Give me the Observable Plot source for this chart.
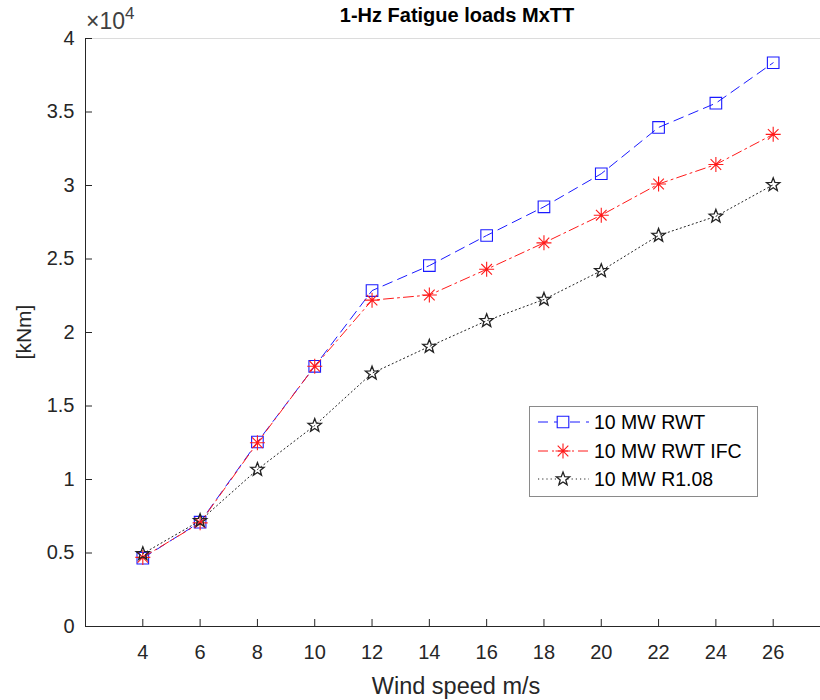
<!DOCTYPE html>
<html>
<head>
<meta charset="utf-8">
<script src="https://cdn.jsdelivr.net/npm/d3@7"></script>
<script src="https://cdn.jsdelivr.net/npm/@observablehq/plot@0.6"></script>
<style>
  html, body { margin: 0; padding: 0; background: #fff; }
  #wrap { position: relative; width: 820px; height: 700px; overflow: hidden; font-family: "Liberation Sans", Arial, sans-serif; }
  #chart { position: absolute; left: 0; top: 0; }
  .title { position: absolute; top: 4px; left: 257px; width: 400px; text-align: center; font-weight: bold; font-size: 20px; color: #000; }
  .exp { position: absolute; top: 5px; left: 86px; font-size: 23px; color: #404040; }
  .exp sup { font-size: 17px; position: relative; top: -1px; }
  .ylab { position: absolute; left: 24px; top: 332px; transform: translate(-50%, -50%) rotate(-90deg); font-size: 21px; color: #262626; white-space: nowrap; }
  .xlab { position: absolute; left: 456px; top: 686px; transform: translate(-50%, -50%); font-size: 23.5px; color: #262626; white-space: nowrap; }
  .legend { position: absolute; left: 529px; top: 406px; width: 227px; height: 89px; border: 1px solid #8a8a8a; background: #fff; box-sizing: content-box; }
  .legend .row { position: absolute; left: 0; height: 26px; display: flex; align-items: center; }
  .legend .row span { font-size: 19.5px; color: #000; margin-left: 2px; }
</style>
</head>
<body>
<div id="wrap">
  <div id="chart"></div>
  <div class="title">1-Hz Fatigue loads MxTT</div>
  <div class="exp">&times;10<sup>4</sup></div>
  <div class="ylab">[kNm]</div>
  <div class="xlab">Wind speed m/s</div>
  <div class="legend" id="legend"></div>
</div>
<script>
// ---- data ----
const windSpeed = [4, 6, 8, 10, 12, 14, 16, 18, 20, 22, 24, 26];
const rwt   = [4650, 7100, 12550, 17700, 22850, 24550, 26600, 28550, 30800, 33950, 35600, 38350];
const rwtIfc = [4700, 7050, 12500, 17700, 22200, 22550, 24300, 26100, 27980, 30100, 31430, 33480];
const r108  = [4950, 7200, 10680, 13670, 17230, 19050, 20800, 22250, 24200, 26600, 27900, 30050];
const seriesNames = ["10 MW RWT", "10 MW RWT IFC", "10 MW R1.08"];
const xTicks = [4, 6, 8, 10, 12, 14, 16, 18, 20, 22, 24, 26];
const yTicks = [0, 5000, 10000, 15000, 20000, 25000, 30000, 35000, 40000];

// ---- custom MATLAB-like symbols ----
const squareSym = { draw(ctx, size) { const r = Math.sqrt(size / Math.PI); ctx.moveTo(-r, -r); ctx.lineTo(r, -r); ctx.lineTo(r, r); ctx.lineTo(-r, r); ctx.closePath(); } };
const asteriskSym = { draw(ctx, size) { const r = Math.sqrt(size / Math.PI); const d = r * Math.SQRT1_2;
  ctx.moveTo(-r, 0); ctx.lineTo(r, 0); ctx.moveTo(0, -r); ctx.lineTo(0, r);
  ctx.moveTo(-d, -d); ctx.lineTo(d, d); ctx.moveTo(-d, d); ctx.lineTo(d, -d); } };
const starSym = { draw(ctx, size) { const R = Math.sqrt(size / Math.PI), ri = R * 0.42;
  for (let i = 0; i < 10; i++) { const a = -Math.PI / 2 + i * Math.PI / 5; const rr = i % 2 ? ri : R;
    const x = rr * Math.cos(a), y = rr * Math.sin(a); if (i === 0) ctx.moveTo(x, y); else ctx.lineTo(x, y); }
  ctx.closePath(); } };

const series = [
  { name: seriesNames[0], values: rwt, color: "#1a1aff", dash: "10,6", sym: squareSym, r: 5.8, sw: 1.1 },
  { name: seriesNames[1], values: rwtIfc, color: "#ff1a1a", dash: "10,4,2,4", sym: asteriskSym, r: 7.5, sw: 1.1 },
  { name: seriesNames[2], values: r108, color: "#222", dash: "1.2,3", sym: starSym, r: 7, sw: 1.3 }
];
const table = s => windSpeed.map((w, i) => ({ w, v: s.values[i] }));

const W = 820, H = 700, mL = 85, mT = 38, mB = 74;
const frameW = W - mL, frameH = H - mT - mB;
const axisColor = "#262626";

const marks = [
  Plot.ruleY([40000], { stroke: "#dcdcdc" }),
  Plot.ruleY([0], { stroke: axisColor }),
  Plot.ruleX([2], { stroke: axisColor }),
  Plot.tickY(yTicks, { y: d => d, insetRight: frameW - 7, stroke: axisColor }),
  Plot.tickX(xTicks, { x: d => d, insetTop: frameH - 7, stroke: axisColor }),
  Plot.axisY(yTicks, { tickSize: 0, tickPadding: 11, tickFormat: d => String(d / 1e4), fontSize: 20, color: "#262626", label: null }),
  Plot.axisX(xTicks, { tickSize: 0, tickPadding: 18, tickFormat: d => String(d), fontSize: 20, color: "#262626", label: null })
];
for (const s of series) {
  marks.push(Plot.line(table(s), { x: "w", y: "v", stroke: s.color, strokeWidth: 1, strokeDasharray: s.dash }));
  marks.push(Plot.dot(table(s), { x: "w", y: "v", symbol: s.sym, r: s.r, fill: "none", stroke: s.color, strokeWidth: s.sw }));
}

const chart = Plot.plot({
  width: W, height: H,
  marginLeft: mL, marginTop: mT, marginBottom: mB, marginRight: 0,
  style: { background: "#fff", fontFamily: "'Liberation Sans', Arial, sans-serif", fontSize: "20px", overflow: "hidden" },
  x: { domain: [2, 28], range: [mL, 830] },
  y: { domain: [0, 40000] },
  marks
});
document.getElementById("chart").appendChild(chart);

// ---- legend ----
const legend = document.getElementById("legend");
const rowTops = [2, 31, 59];
const ns = "http://www.w3.org/2000/svg";
series.forEach((s, i) => {
  const row = document.createElement("div");
  row.className = "row";
  row.style.top = rowTops[i] + "px";
  const svg = document.createElementNS(ns, "svg");
  svg.setAttribute("width", 62); svg.setAttribute("height", 26);
  const ln = document.createElementNS(ns, "line");
  ln.setAttribute("x1", 8); ln.setAttribute("x2", 59); ln.setAttribute("y1", 13); ln.setAttribute("y2", 13);
  ln.setAttribute("stroke", s.color); ln.setAttribute("stroke-dasharray", s.dash); ln.setAttribute("stroke-width", 1);
  svg.appendChild(ln);
  const p = d3.path();
  s.sym.draw(p, s.r * s.r * Math.PI);
  const path = document.createElementNS(ns, "path");
  path.setAttribute("d", p.toString());
  path.setAttribute("transform", "translate(33,13)");
  path.setAttribute("fill", "#fff"); path.setAttribute("stroke", s.color); path.setAttribute("stroke-width", s.sw);
  svg.appendChild(path);
  row.appendChild(svg);
  const t = document.createElement("span");
  t.textContent = s.name;
  row.appendChild(t);
  legend.appendChild(row);
});
</script>
</body>
</html>
